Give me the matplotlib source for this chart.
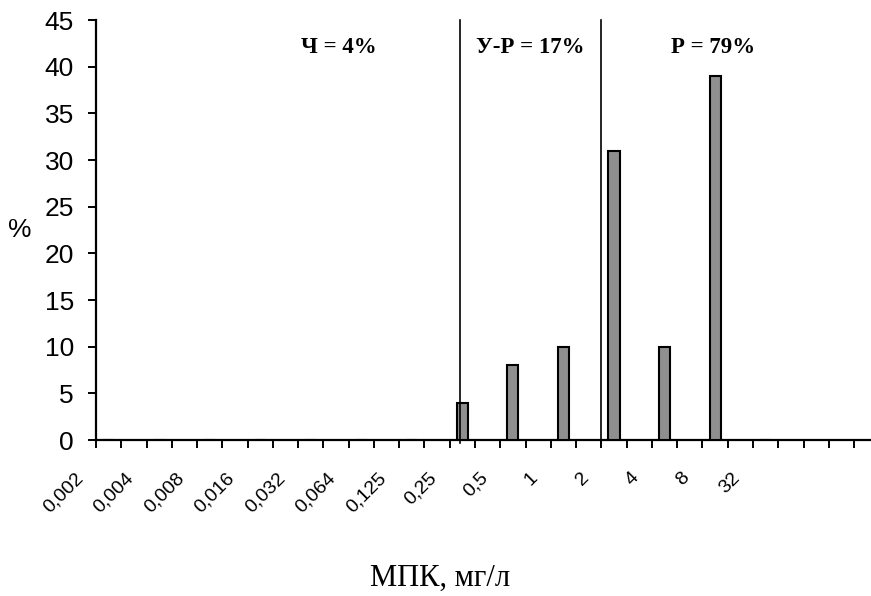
import numpy as np
import matplotlib
matplotlib.use("Agg")
import matplotlib.pyplot as plt
import matplotlib.transforms as mtransforms

# MIC categories (every second slot on the axis carries a label)
mic_labels = ['0,002', '0,004', '0,008', '0,016', '0,032', '0,064', '0,125',
              '0,25', '0,5', '1', '2', '4', '8', '32']
pct = [0, 0, 0, 0, 0, 0, 0, 4, 8, 10, 31, 10, 39, 0]

# zone borders (in axis slot units) and zone captions
borders = [14.4, 20.0]
zone_names = ['Ч = 4%', 'У-Р = 17%', 'Р = 79%']
zone_x = [9.6, 17.2, 24.4]

fig = plt.figure(figsize=(8.71, 5.96), dpi=100)
ax = fig.add_axes([96 / 871, 156 / 596, 775 / 871, 420 / 596])

slot = 2 * np.arange(len(mic_labels))          # slot index of each label
ax.bar(slot + 0.5, pct, width=0.44, color='#8f8f8f', edgecolor='black',
       linewidth=1.5, zorder=3)

for b in borders:
    ax.plot([b, b], [-0.35, 45], color='black', lw=1.2, clip_on=False, zorder=4)

for name, x in zip(zone_names, zone_x):
    ax.text(x, 42.1, name, ha='center', va='center', fontsize=16.5,
            fontweight='bold', family='Liberation Serif')

ax.set_xlim(0, 30.67)
ax.set_ylim(0, 45)

# axes look
for s in ['top', 'right']:
    ax.spines[s].set_visible(False)
for s in ['left', 'bottom']:
    ax.spines[s].set_linewidth(1.6)

ax.set_yticks(np.arange(0, 46, 5))
ax.tick_params(axis='y', direction='out', length=6, width=1.4, pad=10,
               labelsize=19)
for lab in ax.get_yticklabels():
    lab.set_family('Liberation Sans')

# tick marks on every slot border, labels on every second slot
ax.set_xticks(np.arange(0, 31), minor=True)
ax.tick_params(axis='x', which='minor', direction='out', length=5.5, width=1.4)
ax.set_xticks(slot + 0.5, mic_labels)
ax.tick_params(axis='x', which='major', length=0, pad=21, labelsize=14)
shift = mtransforms.ScaledTranslation(-0.34, 0, fig.dpi_scale_trans)
for lab in ax.get_xticklabels():
    lab.set_rotation(45)
    lab.set_ha('right')
    lab.set_va('top')
    lab.set_rotation_mode('anchor')
    lab.set_family('Liberation Sans')
    lab.set_transform(lab.get_transform() + shift)

ax.set_ylabel('%', rotation=0, fontsize=19, family='Liberation Sans')
ax.yaxis.set_label_coords(-0.098, 0.5)
ax.yaxis.label.set_va('center')
ax.yaxis.label.set_ha('center')

ax.set_xlabel('МПК, мг/л', fontsize=22, family='Liberation Serif')
ax.xaxis.set_label_coords((440 - 96) / 775, -0.347)
ax.xaxis.label.set_va('baseline')

fig.savefig('out.png', dpi=100)
